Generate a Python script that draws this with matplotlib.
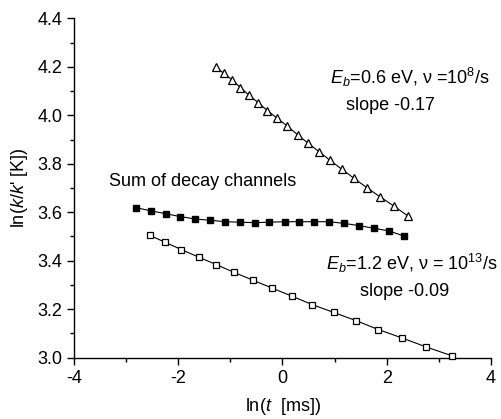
import matplotlib
matplotlib.use("Agg")
import matplotlib.pyplot as plt
from matplotlib.ticker import MultipleLocator

plt.rcParams['font.family'] = ['Liberation Sans', 'DejaVu Sans']
plt.rcParams['mathtext.fontset'] = 'custom'
plt.rcParams['mathtext.rm'] = 'Liberation Sans'
plt.rcParams['mathtext.it'] = 'Liberation Sans:italic'
plt.rcParams['axes.unicode_minus'] = False

# Data
tri_x = [-1.273, -1.127, -0.965, -0.806, -0.647, -0.466, -0.288, -0.102, 0.090, 0.288,
         0.495, 0.701, 0.912, 1.142, 1.372, 1.622, 1.875, 2.134, 2.405]
tri_y = [4.198, 4.173, 4.146, 4.114, 4.084, 4.052, 4.019, 3.988, 3.956, 3.920,
         3.884, 3.850, 3.814, 3.777, 3.740, 3.701, 3.663, 3.626, 3.585]

sum_x = [-2.81, -2.53, -2.24, -1.96, -1.67, -1.39, -1.10, -0.82, -0.53, -0.25,
         0.04, 0.32, 0.61, 0.89, 1.18, 1.47, 1.75, 2.04, 2.33]
sum_y = [3.619, 3.606, 3.594, 3.582, 3.572, 3.567, 3.561, 3.559, 3.557, 3.559,
         3.561, 3.561, 3.561, 3.561, 3.554, 3.545, 3.534, 3.523, 3.502]

sq_x = [-2.55, -2.25, -1.94, -1.61, -1.27, -0.93, -0.57, -0.21, 0.18, 0.57,
        0.98, 1.41, 1.84, 2.30, 2.76, 3.25]
sq_y = [3.505, 3.476, 3.446, 3.415, 3.384, 3.352, 3.320, 3.288, 3.254, 3.219,
        3.187, 3.153, 3.116, 3.081, 3.044, 3.008]

fig = plt.figure(figsize=(5.01, 4.19), dpi=100)
ax = fig.add_axes([0.1477, 0.1463, 0.8323, 0.81])

ax.plot(tri_x, tri_y, color='black', lw=0.8, marker='^', markersize=6,
        markerfacecolor='white', markeredgecolor='black', markeredgewidth=0.9, clip_on=False)
ax.plot(sum_x, sum_y, color='black', lw=0.8, marker='s', markersize=5,
        markerfacecolor='black', markeredgecolor='black', clip_on=False)
ax.plot(sq_x, sq_y, color='black', lw=0.8, marker='s', markersize=5,
        markerfacecolor='white', markeredgecolor='black', markeredgewidth=0.9, clip_on=False, zorder=3)

ax.set_xlim(-4, 4)
ax.set_ylim(3.0, 4.4)
ax.xaxis.set_major_locator(MultipleLocator(2))
ax.xaxis.set_minor_locator(MultipleLocator(1))
ax.yaxis.set_major_locator(MultipleLocator(0.2))
ax.yaxis.set_minor_locator(MultipleLocator(0.1))
ax.yaxis.set_major_formatter(matplotlib.ticker.FormatStrFormatter('%.1f'))
ax.spines['top'].set_visible(False)
ax.spines['right'].set_visible(False)
for s in ('left', 'bottom'):
    ax.spines[s].set_linewidth(1.0)
ax.tick_params(which='major', direction='out', length=5, width=1.0, labelsize=13)
ax.tick_params(which='minor', direction='out', length=3, width=1.0)

ax.set_xlabel(r"ln($t$  [ms])", fontsize=13, labelpad=7)
ax.set_ylabel(r"ln($k$/$k$' [K])", fontsize=13, labelpad=5)

ax.text(3.98, 4.154, r"$E_b$=0.6 eV, ν =10$^8$/s", fontsize=13, ha='right', va='center')
ax.text(2.08, 4.042, "slope -0.17", fontsize=13, ha='center', va='center')
ax.text(-3.32, 3.725, "Sum of decay channels", fontsize=13, ha='left', va='center')
ax.text(4.13, 3.39, r"$E_b$=1.2 eV, ν = 10$^{13}$/s", fontsize=13, ha='right', va='center')
ax.text(2.34, 3.273, "slope -0.09", fontsize=13, ha='center', va='center')

fig.savefig("out.png", dpi=100)
